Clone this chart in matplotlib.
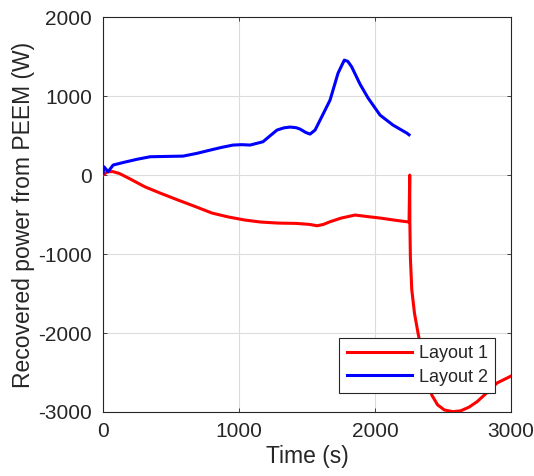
import numpy as np
import matplotlib
matplotlib.use("Agg")
import matplotlib.pyplot as plt

plt.rcParams['font.family'] = ['Liberation Sans', 'DejaVu Sans']
plt.rcParams['axes.unicode_minus'] = False

# Layout 1 recovered power (red)
t1 = [0, 30, 70, 120, 200, 309, 430, 551, 680, 801, 920, 1044, 1160, 1287, 1420,
      1520, 1573, 1620, 1669, 1750, 1853, 1940, 2037, 2140, 2250,
      2255, 2256, 2260, 2270, 2290, 2316, 2350, 2385, 2417, 2460, 2510, 2574,
      2630, 2690, 2750, 2820, 2897, 2971, 3000]
p1 = [0, 40, 45, 20, -50, -150, -235, -316, -400, -481, -530, -570, -595, -608, -612,
      -625, -642, -625, -591, -545, -506, -525, -544, -570, -595,
      0, -600, -1050, -1450, -1750, -2000, -2300, -2570, -2785, -2910, -2975, -2996,
      -2985, -2940, -2870, -2760, -2633, -2570, -2545]

# Layout 2 recovered power (blue)
t2 = [0, 7, 37, 74, 150, 250, 346, 460, 588, 690, 787, 870, 956, 1020, 1081,
      1176, 1230, 1279, 1330, 1375, 1420, 1449, 1490, 1522, 1559, 1608, 1669,
      1728, 1774, 1800, 1828, 1890, 1949, 2037, 2132, 2235, 2250]
p2 = [25, 105, 42, 127, 160, 200, 232, 236, 240, 275, 316, 350, 380, 385, 380,
      422, 500, 570, 598, 608, 600, 582, 540, 519, 570, 738, 949,
      1291, 1456, 1440, 1371, 1150, 975, 759, 633, 530, 510]

fig = plt.figure(figsize=(5.34, 4.76), dpi=100)
ax = fig.add_axes([0.193, 0.1345, 0.764, 0.8295])

ax.plot(t1, p1, color='red', lw=2.2, label='Layout 1', zorder=3)
ax.plot(t2, p2, color='blue', lw=2.2, label='Layout 2', zorder=3)

ax.set_xlim(0, 3000)
ax.set_ylim(-3000, 2000)
ax.set_xticks([0, 1000, 2000, 3000])
ax.set_yticks([-3000, -2000, -1000, 0, 1000, 2000])
ax.grid(True, color='#dcdcdc', lw=0.8, zorder=0)
ax.set_axisbelow(True)
ax.tick_params(direction='in', top=True, right=True, length=3,
               labelsize=15, colors='#262626', width=0.6)
ax.tick_params(axis='y', pad=8)
ax.tick_params(axis='x', pad=7)
for s in ax.spines.values():
    s.set_color('#262626')
    s.set_linewidth(0.8)

ax.set_xlabel('Time (s)', fontsize=16.5, color='#262626', labelpad=3)
ax.set_ylabel('Recovered power from PEEM (W)', fontsize=16.5, color='#262626', labelpad=2)

leg = ax.legend(loc='lower right', bbox_to_anchor=(0.961, 0.048), fontsize=13,
                fancybox=False, framealpha=1, edgecolor='#262626', borderaxespad=0,
                handlelength=3.6, handletextpad=0.4, labelspacing=0.35, borderpad=0.4)
leg.get_frame().set_linewidth(0.8)
for txt in leg.get_texts():
    txt.set_color('#262626')

fig.savefig('out.png', dpi=100)
